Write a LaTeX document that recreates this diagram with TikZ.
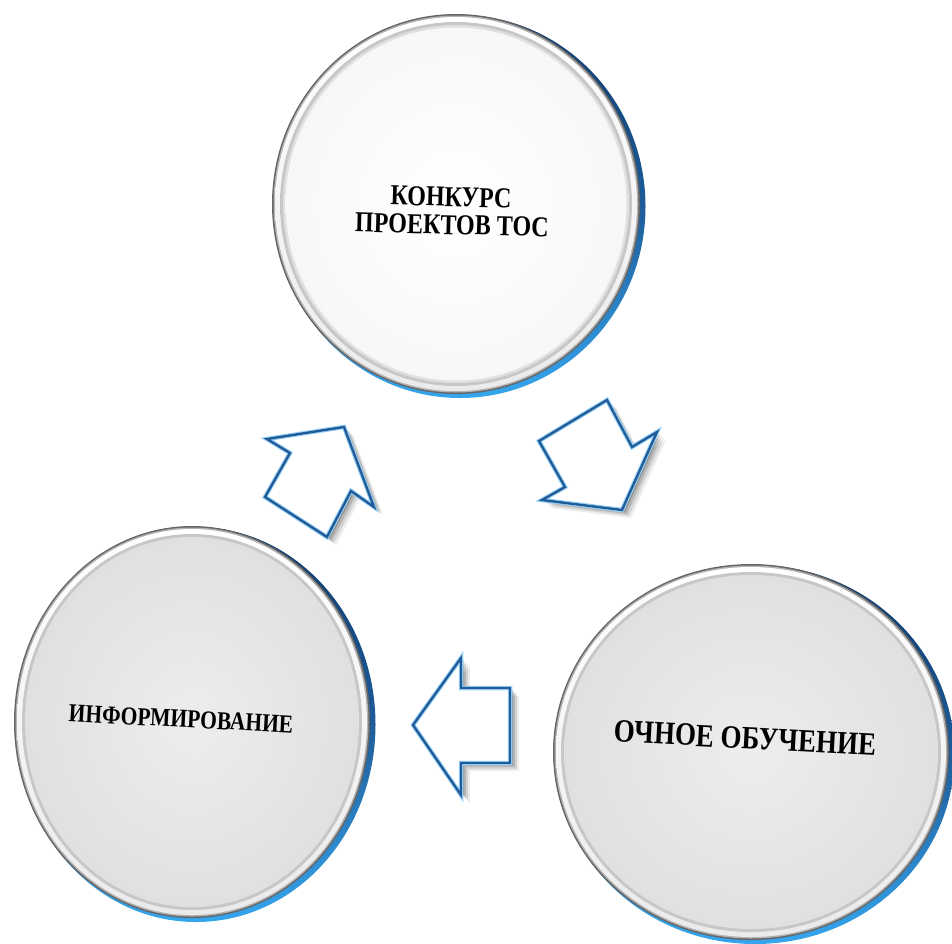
\documentclass[tikz,border=0pt]{standalone}
\usepackage{fontspec}
\setmainfont{Liberation Serif}
\definecolor{rimblue}{HTML}{1F5C99}
\definecolor{navy}{HTML}{0D3A6B}
\definecolor{skyb}{HTML}{35A6EE}
\newcommand\ringdisc[7]{%
\begin{scope}[shift={(#1,#2)},rotate=#5]
  \pgfmathsetmacro\rxa{#3+1.5}\pgfmathsetmacro\rya{#4+1.5}
  \pgfmathsetmacro\rxb{#3-1.5}\pgfmathsetmacro\ryb{#4-1.5}
  \pgfmathsetmacro\rxc{#3-3}\pgfmathsetmacro\ryc{#4-3}
  \pgfmathsetmacro\rxd{#3-8}\pgfmathsetmacro\ryd{#4-8}
  \pgfmathsetmacro\rxe{#3-11}\pgfmathsetmacro\rye{#4-11}
  \pgfmathsetmacro\rxf{#3-13.5}\pgfmathsetmacro\ryf{#4-13.5}
  \shade[top color=navy, bottom color=skyb, middle color=rimblue] (4,2.5) ellipse [x radius=\rxa, y radius=\rya];
  \fill[black!60] (0,0) ellipse [x radius=#3, y radius=#4];
  \fill[black!30] (0,0) ellipse [x radius=\rxb, y radius=\ryb];
  \shade[top color=white, bottom color=black!8] (0,0) ellipse [x radius=\rxc, y radius=\ryc];
  \fill[black!22] (0,0) ellipse [x radius=\rxd, y radius=\ryd];
  \fill[black!12] (0,0) ellipse [x radius=\rxe, y radius=\rye];
  \shade[inner color=#6, outer color=#7] (0,0) ellipse [x radius=\rxf, y radius=\ryf];
\end{scope}}
\newcommand\blockarrow[1]{%
  \fill[black,opacity=0.07] [shift={(9,8)}] #1 -- cycle;
  \fill[black,opacity=0.10] [shift={(7,6)}] #1 -- cycle;
  \fill[black,opacity=0.15] [shift={(5,4)}] #1 -- cycle;
  \fill[black,opacity=0.20] [shift={(3,2)}] #1 -- cycle;
  \fill[white] #1 -- cycle;
  \draw[skyb!50, line width=4.5pt, line join=miter] #1 -- cycle;
  \draw[white, line width=2pt, line join=miter] #1 -- cycle;
  \draw[rimblue, line width=2.4pt, line join=miter] #1 -- cycle;
}
\tikzset{lbl/.style={font=\bfseries, text=black, align=center, inner sep=0pt}}
\begin{document}
\begin{tikzpicture}[x=1pt,y=-1pt]
\useasboundingbox (0,0) rectangle (952,943);
% discs
\ringdisc{456}{204}{184}{190}{0}{white}{black!3}
\ringdisc{192}{722}{178}{196}{0}{black!7}{black!12}
\ringdisc{751}{752}{198}{188}{0}{black!7}{black!12}
% block arrows
\blockarrow{(344,427) -- (374,507) -- (351,491) -- (327,537) -- (265,497) -- (290,453) -- (267,439)}
\blockarrow{(607,400) -- (632,447) -- (657,432) -- (622,510) -- (542,500) -- (565,487) -- (539,441)}
\blockarrow{(413,725) -- (461,658) -- (461,688) -- (510,688) -- (510,763) -- (461,763) -- (461,795)}
% labels
\node[lbl, rotate=-1.5, yscale=1.2, font=\bfseries\fontsize{24}{22}\selectfont] (konkurs) at (451,197) {КОНКУРС};
\node[lbl, rotate=-1.5, yscale=1.2, font=\bfseries\fontsize{24}{22}\selectfont] (proektov) at (452,225) {ПРОЕКТОВ ТОС};
\node[lbl, rotate=-3, yscale=1.2, font=\bfseries\fontsize{27}{30}\selectfont] (ochnoe) at (745,738) {ОЧНОЕ ОБУЧЕНИЕ};
\node[lbl, rotate=-3, yscale=1.2, font=\bfseries\fontsize{21.5}{25}\selectfont] (inform) at (181,719) {ИНФОРМИРОВАНИЕ};
\end{tikzpicture}
\end{document}
